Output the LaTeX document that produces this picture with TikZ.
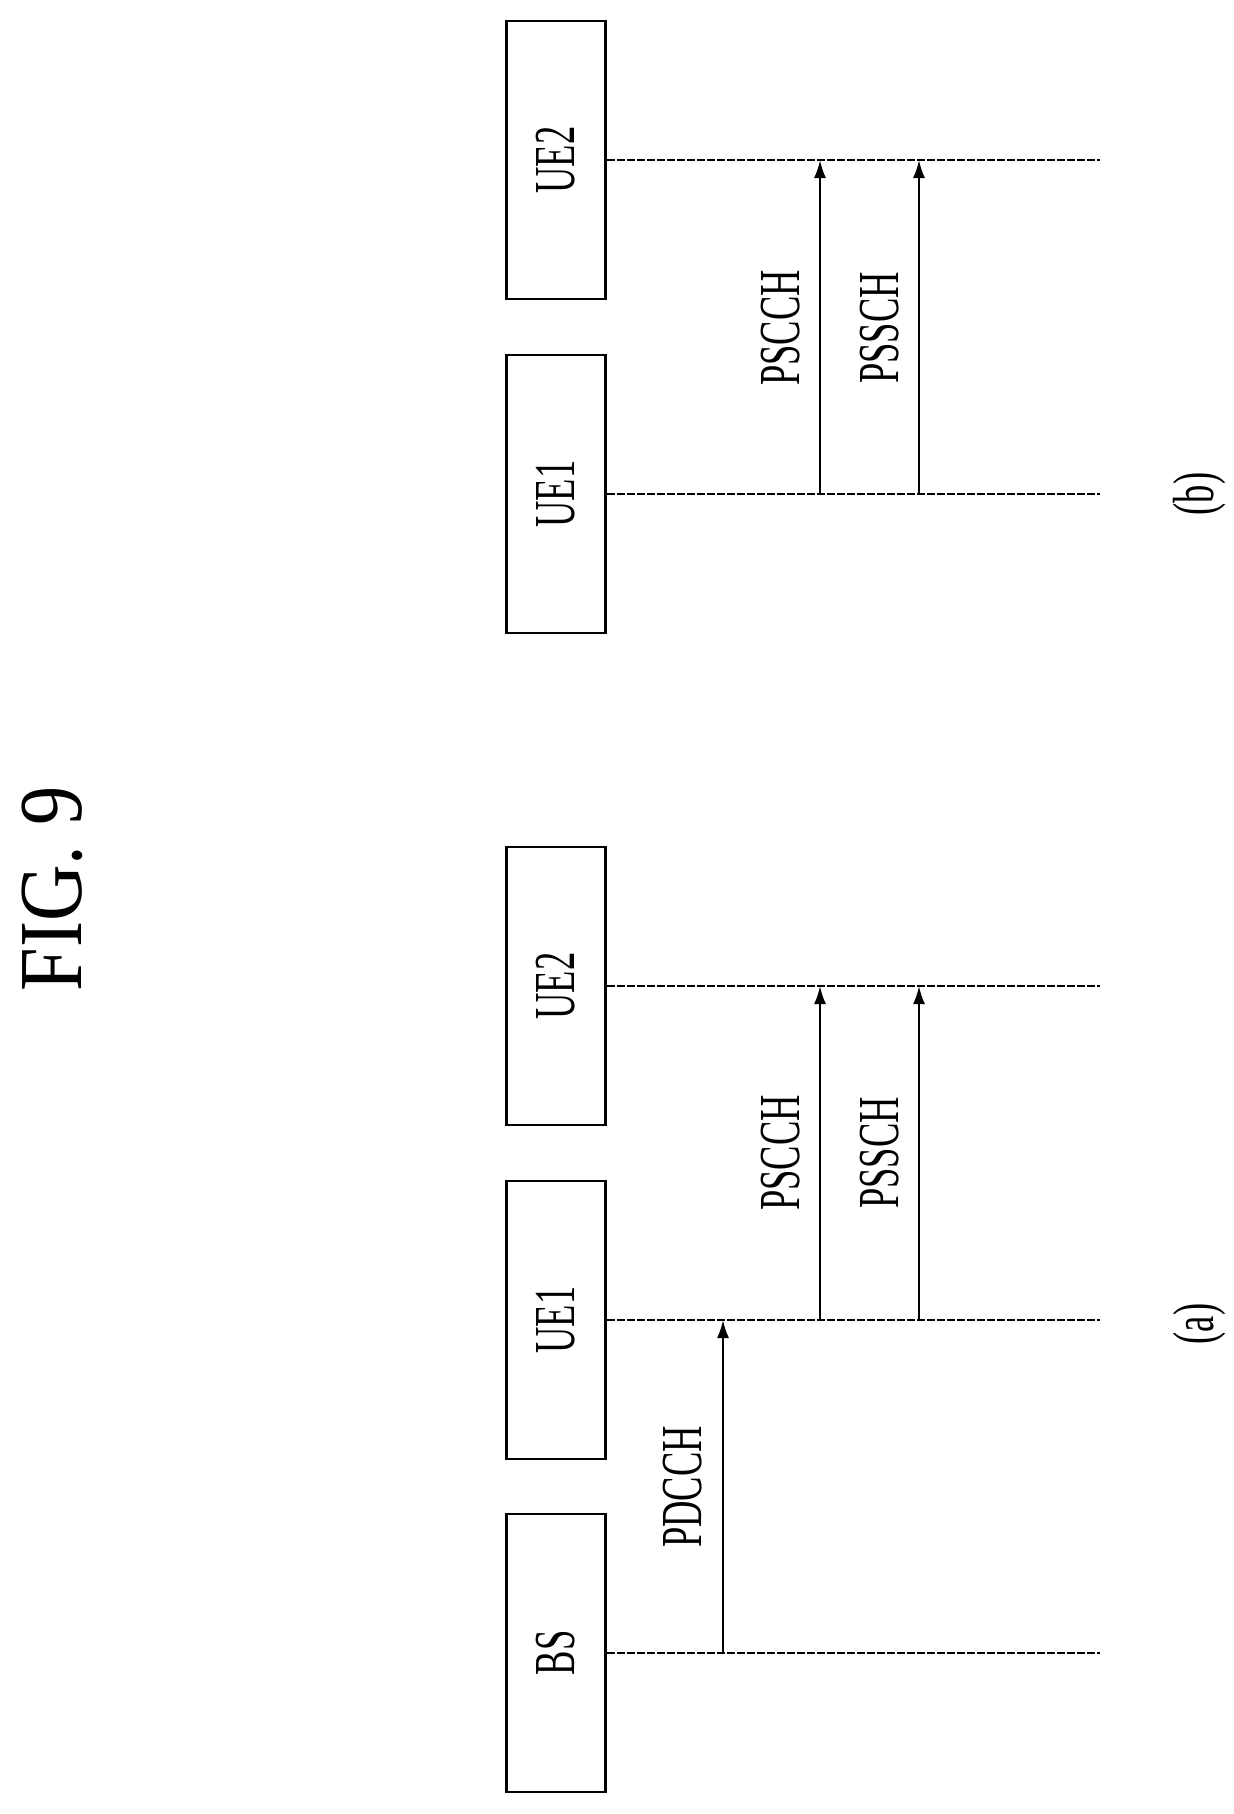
\documentclass[tikz,border=0pt]{standalone}
\usepackage{fontspec}
\setmainfont{Liberation Serif}
\usetikzlibrary{arrows.meta}
\begin{document}
\begin{tikzpicture}[x=0.5pt,y=-0.5pt,
  ent/.style={draw,line width=1.3pt,minimum width=49.5pt,minimum height=139pt,inner sep=0pt},
  lbl/.style={font=\fontsize{29}{30}\selectfont,rotate=90,inner sep=0pt},
  life/.style={line width=0.9pt,dash pattern=on 4pt off 1pt},
  msg/.style={line width=1.1pt,-{Latex[length=9pt,width=6pt]}}]
\useasboundingbox (0,0) rectangle (1234,1814);
\node[font=\fontsize{45}{46}\selectfont,rotate=90,inner sep=0pt] (fig) at (52,889) {\scalebox{0.87}[1]{FIG. 9}};
% (a)
\node[ent] (bs) at (556,1653) {}; \node[lbl] at (bs) {\scalebox{0.63}[1]{BS}};
\node[ent] (ue1a) at (556,1320) {}; \node[lbl] at (ue1a) {\scalebox{0.63}[1]{UE1}};
\node[ent] (ue2a) at (556,986) {}; \node[lbl] at (ue2a) {\scalebox{0.63}[1]{UE2}};
\coordinate (bsE) at (1100,1653); \coordinate (ue1aE) at (1100,1320); \coordinate (ue2aE) at (1100,986);
\draw[life] (bs.east) -- (bsE);
\draw[life] (ue1a.east) -- (ue1aE);
\draw[life] (ue2a.east) -- (ue2aE);
\coordinate (p1s) at (723,1653); \coordinate (p1e) at (723,1320);
\coordinate (p2s) at (820,1320); \coordinate (p2e) at (820,986);
\coordinate (p3s) at (919,1320); \coordinate (p3e) at (919,986);
\draw[msg] (p1s) -- (p1e);
\draw[msg] (p2s) -- (p2e);
\draw[msg] (p3s) -- (p3e);
\node[lbl] (l1) at (683,1487) {\scalebox{0.63}[1]{PDCCH}};
\node[lbl] (l2) at (781,1153) {\scalebox{0.63}[1]{PSCCH}};
\node[lbl] (l3) at (880,1153) {\scalebox{0.63}[1]{PSSCH}};
\node[lbl] (la) at (1200,1324) {\scalebox{0.63}[1]{(a)}};
% (b)
\node[ent] (ue1b) at (556,494) {}; \node[lbl] at (ue1b) {\scalebox{0.63}[1]{UE1}};
\node[ent] (ue2b) at (556,160) {}; \node[lbl] at (ue2b) {\scalebox{0.63}[1]{UE2}};
\coordinate (ue1bE) at (1100,494); \coordinate (ue2bE) at (1100,160);
\draw[life] (ue1b.east) -- (ue1bE);
\draw[life] (ue2b.east) -- (ue2bE);
\coordinate (q2s) at (820,494); \coordinate (q2e) at (820,160);
\coordinate (q3s) at (919,494); \coordinate (q3e) at (919,160);
\draw[msg] (q2s) -- (q2e);
\draw[msg] (q3s) -- (q3e);
\node[lbl] (m2) at (781,328) {\scalebox{0.63}[1]{PSCCH}};
\node[lbl] (m3) at (880,328) {\scalebox{0.63}[1]{PSSCH}};
\node[lbl] (lb) at (1200,494) {\scalebox{0.63}[1]{(b)}};
\end{tikzpicture}
\end{document}
